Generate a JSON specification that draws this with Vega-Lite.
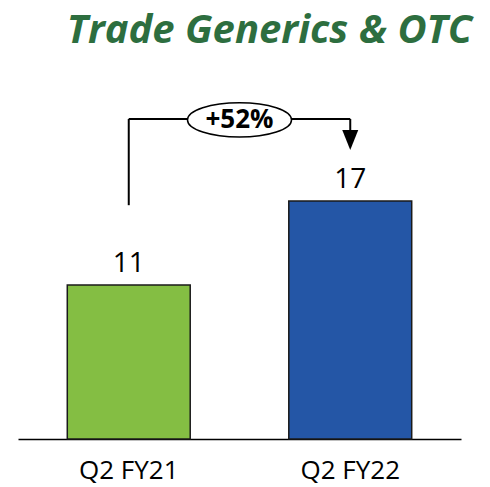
{
  "$schema": "https://vega.github.io/schema/vega-lite/v6.json",
  "width": 443,
  "height": 378,
  "autosize": {"type": "none"},
  "padding": {"left": 18, "top": 61, "right": 29, "bottom": 48},
  "title": {
    "text": "Trade Generics & OTC",
    "font": "Open Sans",
    "fontSize": 40,
    "fontWeight": "bold",
    "fontStyle": "italic",
    "color": "#2D6E3F",
    "anchor": "middle",
    "frame": "group",
    "dx": 30,
    "offset": -22,
    "baseline": "alphabetic"
  },
  "config": {"view": {"stroke": null}, "font": "Open Sans"},
  "data": {"values": [{"period": "Q2 FY21", "value": 11}, {"period": "Q2 FY22", "value": 17}]},
  "layer": [
    {
      "encoding": {
        "x": {
          "field": "period",
          "type": "nominal",
          "sort": null,
          "scale": {"paddingInner": 0.445, "paddingOuter": 0.2225},
          "axis": {
            "title": null,
            "domain": true,
            "domainColor": "#000000",
            "domainWidth": 1.5,
            "ticks": false,
            "tickSize": 0,
            "grid": false,
            "labelAngle": 0,
            "labelFont": "Open Sans",
            "labelFontSize": 26,
            "labelColor": "#000000",
            "labelPadding": 18
          }
        },
        "y": {"field": "value", "type": "quantitative", "scale": {"domain": [0, 27], "nice": false}, "axis": null}
      },
      "layer": [
        {
          "mark": {"type": "bar", "stroke": "#1a1a1a", "strokeWidth": 1.5},
          "encoding": {
            "color": {"field": "period", "type": "nominal", "scale": {"range": ["#84BE43", "#2456A6"]}, "legend": null}
          }
        },
        {
          "mark": {"type": "text", "baseline": "alphabetic", "dy": -13, "fontSize": 28, "color": "#000000"},
          "encoding": {"text": {"field": "value", "type": "quantitative"}}
        }
      ]
    },
    {
      "data": {"values": [{"from": "Q2 FY21", "to": "Q2 FY22", "label": "+52%"}]},
      "encoding": {
        "x": {
          "field": "from",
          "type": "nominal",
          "scale": {"type": "point", "domain": ["Q2 FY21", "+52%", "Q2 FY22"], "padding": 1},
          "axis": null
        }
      },
      "layer": [
        {
          "mark": {"type": "rule", "color": "#000000", "strokeWidth": 2},
          "encoding": {
            "y": {"datum": 16.7, "type": "quantitative"},
            "y2": {"datum": 22.86}
          }
        },
        {
          "mark": {"type": "rule", "color": "#000000", "strokeWidth": 2},
          "encoding": {
            "x2": {"field": "to"},
            "y": {"datum": 22.86, "type": "quantitative"}
          }
        },
        {
          "mark": {"type": "rule", "color": "#000000", "strokeWidth": 2},
          "encoding": {
            "x": {"field": "to", "type": "nominal"},
            "y": {"datum": 22.86, "type": "quantitative"},
            "y2": {"datum": 21.4}
          }
        },
        {
          "mark": {"type": "point", "shape": "M -0.8 -1 L 0.8 -1 L 0 1 Z", "filled": true, "color": "#000000", "opacity": 1, "size": 400},
          "encoding": {
            "x": {"field": "to", "type": "nominal"},
            "y": {"datum": 21.36, "type": "quantitative"}
          }
        },
        {
          "mark": {"type": "point", "shape": "M -1 0 A 1 0.33 0 1 0 1 0 A 1 0.33 0 1 0 -1 0 Z", "filled": true, "fill": "#ffffff", "stroke": "#000000", "strokeWidth": 1.5, "opacity": 1, "fillOpacity": 1, "strokeOpacity": 1, "size": 10816},
          "encoding": {
            "x": {"field": "label", "type": "nominal"},
            "y": {"datum": 22.79, "type": "quantitative"}
          }
        },
        {
          "mark": {"type": "text", "fontSize": 26, "fontWeight": "bold", "baseline": "middle", "color": "#000000"},
          "encoding": {
            "x": {"field": "label", "type": "nominal"},
            "y": {"datum": 22.79, "type": "quantitative"},
            "text": {"field": "label"}
          }
        }
      ]
    }
  ],
  "resolve": {"scale": {"x": "independent"}, "axis": {"x": "independent"}}
}
